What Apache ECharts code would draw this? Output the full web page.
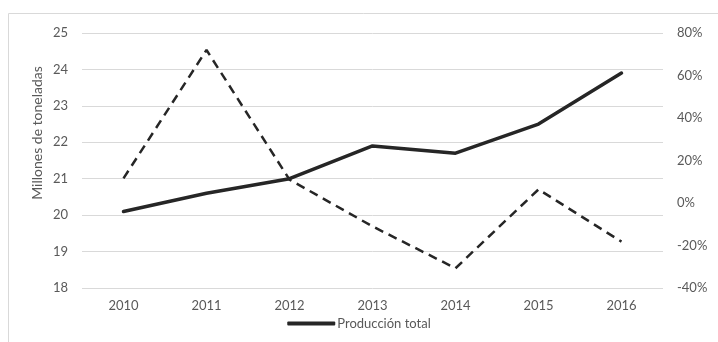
<!DOCTYPE html>
<html><head><meta charset="utf-8">
<script src="https://cdn.jsdelivr.net/npm/echarts@6/dist/echarts.min.js"></script>
<style>html,body{margin:0;padding:0;background:#fff}#c{width:718px;height:342px}</style>
</head><body><div id="c"></div>
<script>
const years = ['2010','2011','2012','2013','2014','2015','2016'];
const produccion = [20.1, 20.6, 21.0, 21.9, 21.7, 22.5, 23.9];
const crecimiento = [11.6, 72, 11, -11, -30.7, 6.4, -18.2];
const leftTicks = {min: 18, max: 25, interval: 1};
const rightTicks = {min: -40, max: 80, interval: 20};

const chart = echarts.init(document.getElementById('c'));
const txt = '#595959';
const font = 'Lato';
chart.setOption({
  animation: false,
  grid: {left: 82, right: 55, top: 33, bottom: 54},
  graphic: [
    {type: 'rect', shape: {x: 8.5, y: 13.5, width: 800, height: 400}, style: {fill: 'none', stroke: '#d9d9d9', lineWidth: 1}, silent: true},
    {type: 'text', x: 37, y: 133, rotation: Math.PI/2, style: {text: 'Millones de toneladas', fill: txt, font: '14px Lato', align: 'center', verticalAlign: 'middle'}}
  ],
  legend: {
    data: [{name: 'Producción total'}],
    bottom: 7, left: 'center',
    itemWidth: 48, itemHeight: 4, itemGap: 4,
    icon: 'roundRect',
    textStyle: {color: txt, fontSize: 13, fontFamily: font, padding: [0,0,0,-3]}
  },
  xAxis: {
    type: 'category', data: years, boundaryGap: true,
    axisLine: {show: false}, axisTick: {show: false},
    axisLabel: {color: txt, fontSize: 13, fontFamily: font, margin: 11}
  },
  yAxis: [
    {type: 'value', min: leftTicks.min, max: leftTicks.max, interval: leftTicks.interval,
     axisLabel: {color: txt, fontSize: 13, fontFamily: font, margin: 14},
     splitLine: {lineStyle: {color: '#d9d9d9', width: 1}},
     axisLine: {show: false}, axisTick: {show: false}},
    {type: 'value', min: rightTicks.min, max: rightTicks.max, interval: rightTicks.interval,
     position: 'right',
     axisLabel: {color: txt, fontSize: 13, fontFamily: font, margin: 14, formatter: v => (v < 0 ? '-' + Math.abs(v) : v) + '%'},
     splitLine: {show: false}, axisLine: {show: false}, axisTick: {show: false}}
  ],
  series: [
    {name: 'Producción total', type: 'line', yAxisIndex: 0, data: produccion,
     showSymbol: false, symbol: 'none',
     lineStyle: {color: '#262626', width: 3.5, cap: 'round', join: 'round'},
     itemStyle: {color: '#262626'}},
    {name: 'Crecimiento', type: 'line', yAxisIndex: 1, data: crecimiento,
     showSymbol: false, symbol: 'none',
     lineStyle: {color: '#262626', width: 2.5, type: [9, 6]},
     itemStyle: {color: '#262626'}}
  ]
});
</script></body></html>
